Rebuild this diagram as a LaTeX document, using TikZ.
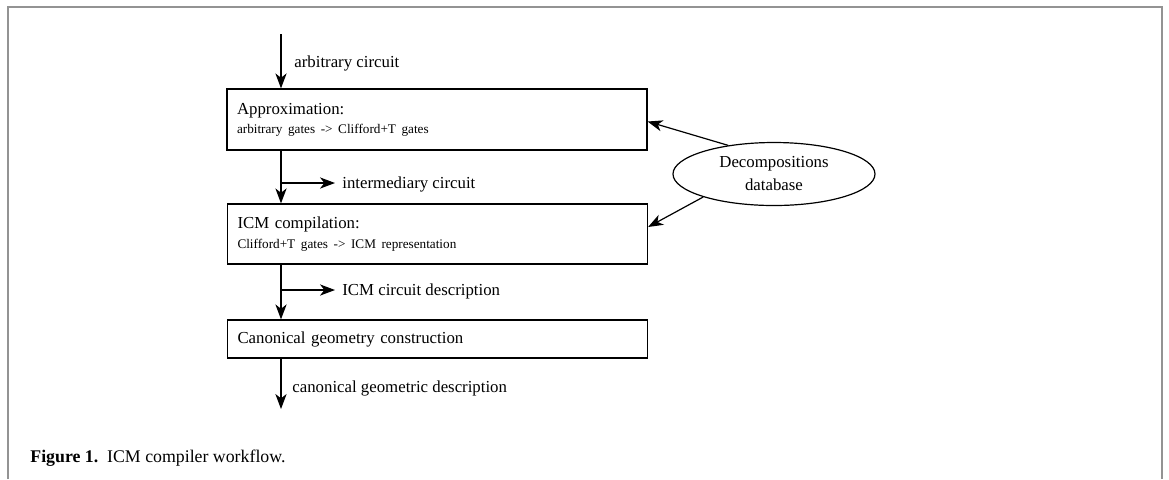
\documentclass[tikz,border=0pt]{standalone}
\usepackage{fontspec}
\setmainfont{Liberation Serif}
\usetikzlibrary{arrows.meta,shapes.geometric}
\newcommand{\gatefont}{\fontsize{6.6}{9.6}\selectfont}
\begin{document}
\begin{tikzpicture}[x=0.5pt,y=-0.5pt,
	stage/.style={draw,semithick,rectangle,minimum width=210pt,inner xsep=5pt,
		text width=200pt,align=left,font=\fontsize{8.4}{9.6}\selectfont},
	flow/.style={semithick,-{Stealth[length=7.5pt,width=5.6pt,inset=2.2pt]}},
	lbl/.style={anchor=west,inner sep=0pt,font=\fontsize{8.4}{9.2}\selectfont}]
	\useasboundingbox (0,0) rectangle (1169,479);
	\draw[line width=1pt,gray!85] (8,479) -- (8,7) -- (1162,7) -- (1162,479);
	
	\node[stage,minimum height=30.5pt] (approx) at (437,119.5) {Approximation:\\{\gatefont arbitrary gates -> Clifford+T gates}};
	\node[stage,minimum height=30pt] (icm) at (437.5,234) {ICM compilation:\\{\gatefont Clifford+T gates -> ICM representation}};
	\node[stage,minimum height=19pt] (geo) at (437.5,339) {Canonical geometry construction};
	\node[draw,semithick,ellipse,minimum width=101pt,minimum height=31.5pt,inner sep=0pt,
		align=center,font=\fontsize{8.4}{11.5}\selectfont] (db) at (774,174) {Decompositions\\database};
	
	\coordinate (in) at (281,34);
	\coordinate (out) at (281,409);
	\coordinate (b1) at (281,183);
	\coordinate (t1) at (335,183);
	\coordinate (b2) at (281,290);
	\coordinate (t2) at (335,290);
	
	\draw[flow] (in) -- (approx.north -| in);
	\draw[flow] (approx.south -| in) -- (icm.north -| in);
	\draw[flow] (b1) -- (t1);
	\draw[flow] (icm.south -| in) -- (geo.north -| in);
	\draw[flow] (b2) -- (t2);
	\draw[flow] (geo.south -| in) -- (out);
	\draw[flow] (db.148) -- ([yshift=-1pt]approx.east);
	\draw[flow] (db.198) -- ([yshift=3.5pt]icm.east);
	
	\node[lbl] (l0) at (294,63) {arbitrary circuit};
	\node[lbl] (l1) at (342,184) {intermediary circuit};
	\node[lbl] (l2) at (342,291) {ICM circuit description};
	\node[lbl] (l3) at (292,388) {canonical geometric description};
	
	\node[anchor=west,inner sep=0pt,font=\fontsize{8.9}{10}\selectfont] (cap) at (30,458) {\textbf{Figure 1.}\enspace ICM compiler workflow.};
\end{tikzpicture}
\end{document}
